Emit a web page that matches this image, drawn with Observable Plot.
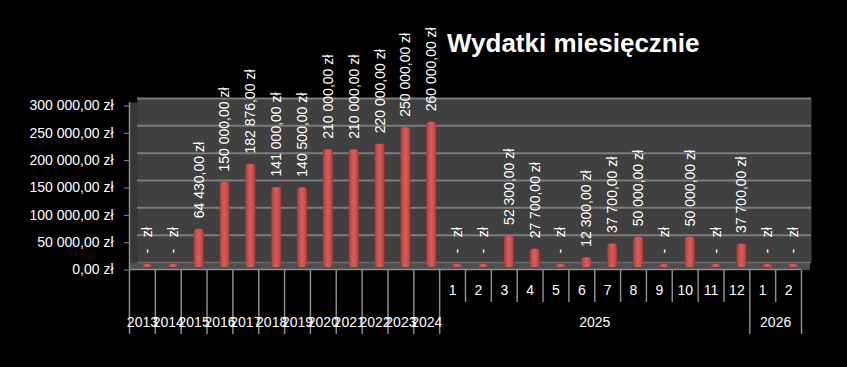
<!DOCTYPE html>
<html>
<head>
<meta charset="utf-8">
<script src="https://cdn.jsdelivr.net/npm/d3@7"></script>
<script src="https://cdn.jsdelivr.net/npm/@observablehq/plot@0.6"></script>
<style>
  html, body { margin: 0; padding: 0; background: #000; }
  #wrap { position: relative; width: 847px; height: 367px; overflow: hidden; }
  #title { position: absolute; z-index: 2; left: 447px; top: 30px; font: bold 26px/26px "Liberation Sans", Arial, sans-serif; color: #fff; white-space: nowrap; }
</style>
</head>
<body>
<div id="wrap"><div id="title"></div></div>
<script>
// ---- data ----
const title = "Wydatki miesięcznie";
const years = ["2013","2014","2015","2016","2017","2018","2019","2020","2021","2022","2023","2024"];
const yearValues = [0, 0, 64430, 150000, 182876, 141000, 140500, 210000, 210000, 220000, 250000, 260000];
const months2025 = ["1","2","3","4","5","6","7","8","9","10","11","12"];
const values2025 = [0, 0, 52300, 27700, 0, 12300, 37700, 50000, 0, 50000, 0, 37700];
const months2026 = ["1","2"];
const values2026 = [0, 0];
const yTicks = [0, 50000, 100000, 150000, 200000, 250000, 300000];

// ---- table ----
const rows = [];
years.forEach((y, i) => rows.push({key: y, group: y, sub: null, first: true, value: yearValues[i]}));
months2025.forEach((m, i) => rows.push({key: "2025-" + m, group: "2025", sub: m, first: i === 0, value: values2025[i]}));
months2026.forEach((m, i) => rows.push({key: "2026-" + m, group: "2026", sub: m, first: i === 0, value: values2026[i]}));
const keys = rows.map(d => d.key);

const loc = d3.formatLocale({decimal: ",", thousands: " ", grouping: [3], currency: ["", ""]});
const num = loc.format(",.2f");
const money = v => v === 0 ? "-\u00a0\u00a0\u00a0zł" : num(v) + " zł";

const W = 847, H = 367, mL = 129, mR = 46, mT = 102, mB = 101;
const bw = (W - mL - mR) / keys.length;
const barW = 10;

const groups = [
  {key: "2025-6", label: "2025"},
  {key: "2026-1", label: "2026"}
];
const yearRows = rows.filter(d => d.sub === null);
const monthRows = rows.filter(d => d.sub !== null);
const longSeps = rows.filter(d => d.first);
const shortSeps = rows.filter(d => !d.first);
const lastSep = [rows[rows.length - 1]];

const chart = Plot.plot({
  width: W, height: H,
  marginLeft: mL, marginRight: mR, marginTop: mT, marginBottom: mB,
  style: {background: "#000", color: "#fff", fontFamily: "Liberation Sans, Arial, sans-serif", fontSize: "14px", overflow: "visible"},
  x: {domain: keys, paddingInner: 0, paddingOuter: 0, round: false, axis: null},
  y: {domain: [0, 300000], axis: null},
  marks: [
    // left wall
    Plot.frame({fill: "#373737", stroke: null, insetRight: bw * keys.length - 9, insetBottom: -3}),
    // back wall
    Plot.frame({fill: "#404040", stroke: null, insetLeft: 8, insetRight: -10, dy: -4}),
    // gridlines on the back wall
    Plot.ruleY(yTicks.slice(1), {stroke: "#7c7c7c", strokeWidth: 2, dy: -4, insetLeft: 8, insetRight: -10}),
    // floor
    Plot.ruleY([0], {stroke: "#4e4e4e", strokeWidth: 7, dy: 0, insetRight: -9}),
    Plot.ruleY([0], {stroke: "#6a6a6a", strokeWidth: 1.5, dy: -4, insetLeft: 8, insetRight: -10}),
    Plot.ruleY([0], {stroke: "#8c8c8c", strokeWidth: 1.5, dy: 3, insetRight: 0}),
    // left edge
    Plot.ruleX([keys[0]], {stroke: "#8c8c8c", strokeWidth: 1.5, dx: -bw / 2, insetBottom: -3}),
    // y axis
    Plot.axisY(yTicks, {label: null, tickFormat: v => num(v) + " zł", tickSize: 5, tickPadding: 11, dy: 3.5, stroke: "#8c8c8c", fill: "#fff", fontSize: 14}),
    // bars
    Plot.rectY(rows, {x: "key", y: "value", fill: "url(#cyl)", insetLeft: (bw - barW) / 2, insetRight: (bw - barW) / 2, insetTop: -2, insetBottom: -1, rx: 3, dx: 5}),
    // data labels
    Plot.text(rows, {x: "key", y: "value", text: d => money(d.value), rotate: -90, textAnchor: "start", dy: -13, dx: 5, fill: "#fff", fontSize: 14}),
    // separators
    Plot.ruleX(longSeps, {x: "key", dx: -bw / 2, insetTop: 100, dy: 68, stroke: "#8c8c8c", strokeWidth: 1.5}),
    Plot.ruleX(shortSeps, {x: "key", dx: -bw / 2, insetTop: 132, dy: 36, stroke: "#8c8c8c", strokeWidth: 1.5}),
    Plot.ruleX(lastSep, {x: "key", dx: bw / 2, insetTop: 100, dy: 68, stroke: "#8c8c8c", strokeWidth: 1.5}),
    // category labels
    Plot.text(monthRows, {x: "key", text: "sub", frameAnchor: "bottom", lineAnchor: "middle", dy: 24, fill: "#fff", fontSize: 14}),
    Plot.text(yearRows, {x: "key", text: "group", frameAnchor: "bottom", lineAnchor: "middle", dy: 56, fill: "#fff", fontSize: 14}),
    Plot.text(groups, {x: "key", text: "label", frameAnchor: "bottom", lineAnchor: "middle", dy: 56, dx: bw / 2, fill: "#fff", fontSize: 14})
  ]
});

const svg = d3.select(chart);
const defs = svg.insert("defs", ":first-child");
const g = defs.append("linearGradient").attr("id", "cyl").attr("x1", 0).attr("x2", 1).attr("y1", 0).attr("y2", 0);
[[0, "#9a3431"], [0.2, "#c44c48"], [0.5, "#d65e5a"], [0.8, "#c64d49"], [1, "#9e3633"]].forEach(([o, c]) =>
  g.append("stop").attr("offset", o).attr("stop-color", c));

document.getElementById("title").textContent = title;
document.getElementById("wrap").appendChild(chart);
chart.style.position = "absolute";
chart.style.left = "0";
chart.style.top = "0";
chart.style.zIndex = "1";
</script>
</body>
</html>
